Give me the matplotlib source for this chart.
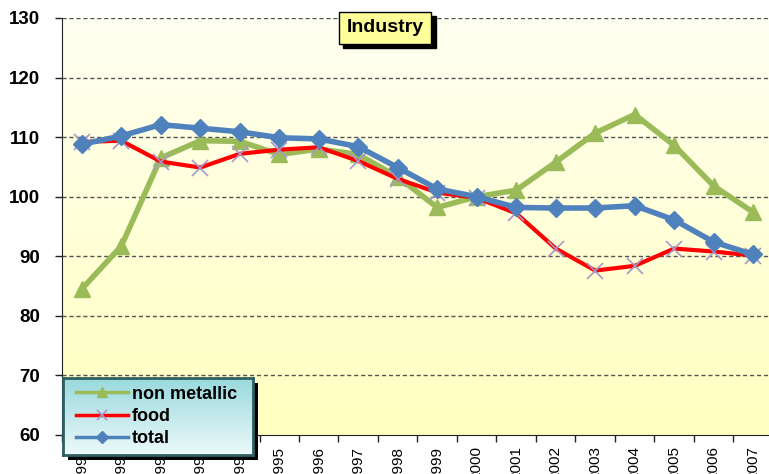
import numpy as np
import matplotlib.pyplot as plt
from matplotlib.patches import Rectangle

plt.rcParams['font.family'] = ['Liberation Sans', 'DejaVu Sans']

years = [str(y) for y in range(1990, 2008)]
non_metallic = [84.5, 91.7, 106.5, 109.4, 109.3, 107.1, 108.0, 107.1, 103.3, 98.2,
                100.0, 101.1, 105.8, 110.7, 113.8, 108.6, 101.8, 97.4]
food = [109.2, 109.4, 105.9, 104.9, 107.2, 107.9, 108.3, 106.0, 103.0, 100.7,
        99.8, 97.2, 91.3, 87.6, 88.4, 91.3, 90.8, 90.1]
total = [108.8, 110.2, 112.1, 111.5, 110.9, 109.9, 109.7, 108.4, 104.9, 101.3,
         100.0, 98.2, 98.1, 98.1, 98.5, 96.1, 92.4, 90.3]

fig = plt.figure(figsize=(7.69, 4.74), dpi=100)
ax = fig.add_axes([62 / 769, 39 / 474, 711 / 769, 417 / 474])

x = np.arange(len(years))
ax.set_xlim(-0.5, len(years) - 0.5)
ax.set_ylim(60, 130)

# yellow fade in the plot area
grad = np.linspace(0, 1, 256).reshape(-1, 1)
top = np.array([1.0, 1.0, 0.75])
bottom = np.array([1.0, 1.0, 0.95])
img = top + (bottom - top) * grad[..., None]
ax.imshow(img, extent=[-0.5, len(years) - 0.5, 130, 60], aspect='auto', zorder=0)

ax.set_yticks(range(60, 131, 10))
for v in range(70, 131, 10):
    ax.axhline(v, color='#555555', lw=1, ls=(0, (3, 2)), zorder=1)

ax.plot(x, non_metallic, color='#9BBB59', lw=4, marker='^', ms=11,
        mfc='#9BBB59', mec='#9BBB59', zorder=3, label='non metallic')
ax.plot(x, food, color='#FF0000', lw=3, marker='x', ms=12, mew=1.2,
        mec='#A898C8', zorder=4, label='food')
ax.plot(x, total, color='#4F81BD', lw=4, marker='D', ms=9,
        mfc='#4F81BD', mec='#4F81BD', zorder=5, label='total')

ax.set_xticks(np.arange(-0.5, len(years) - 0.4, 1), minor=False)
ax.set_xticklabels([])
ax.set_xticks(x, minor=True)
ax.set_xticklabels(years, minor=True, rotation=90, fontsize=11)
ax.tick_params(axis='x', which='major', length=5, width=1, color='#222222')
ax.tick_params(axis='x', which='minor', length=0, pad=8)
ax.tick_params(axis='y', length=5, width=1, color='#222222', labelsize=13.5, pad=11)
for lab in ax.get_yticklabels():
    lab.set_fontweight('bold')

for s in ['top', 'right']:
    ax.spines[s].set_visible(False)
ax.spines['left'].set_color('#222222')
ax.spines['bottom'].set_color('#222222')

# title box with drop shadow
ty = 1 - 28 / 474
box = 'square,pad=0.4'
ax.annotate('Industry', xy=(385 / 769, ty), xycoords='figure fraction',
            xytext=(3, -3), textcoords='offset points', ha='center', va='center',
            fontsize=14, fontweight='bold', color='black', zorder=10,
            bbox=dict(boxstyle=box, fc='black', ec='black'))
ax.annotate('Industry', xy=(385 / 769, ty), xycoords='figure fraction',
            ha='center', va='center', fontsize=14, fontweight='bold',
            color='black', zorder=11,
            bbox=dict(boxstyle=box, fc='#FFFF99', ec='black', lw=1))

# legend panel: shadow, teal gradient, border
lx, ly, lw_, lh = 63 / 769, 19 / 474, 190 / 769, 77 / 474
fig.patches.append(Rectangle((lx + 5 / 769, ly - 5 / 474), lw_, lh,
                             transform=fig.transFigure, fc='black', ec='none', zorder=20))
lax = fig.add_axes([lx, ly, lw_, lh], zorder=21)
lg = np.linspace(0, 1, 128).reshape(-1, 1)
ltop = np.array([0.60, 0.85, 0.87])
lbot = np.array([0.93, 0.98, 0.98])
lax.imshow(ltop + (lbot - ltop) * lg[..., None], extent=[0, 1, 0, 1], aspect='auto')
lax.set_xticks([])
lax.set_yticks([])
for s in lax.spines.values():
    s.set_color('#2F5F60')
    s.set_linewidth(2)
h, l = ax.get_legend_handles_labels()
leg = lax.legend(h, l, loc='center left', frameon=False, markerscale=0.65,
                 prop={'weight': 'bold', 'size': 13}, handlelength=2.9,
                 handletextpad=0.2, labelspacing=0.3, borderaxespad=0.3)
for line in leg.get_lines():
    line.set_linewidth(2.5)

fig.savefig('out.png', dpi=100)
